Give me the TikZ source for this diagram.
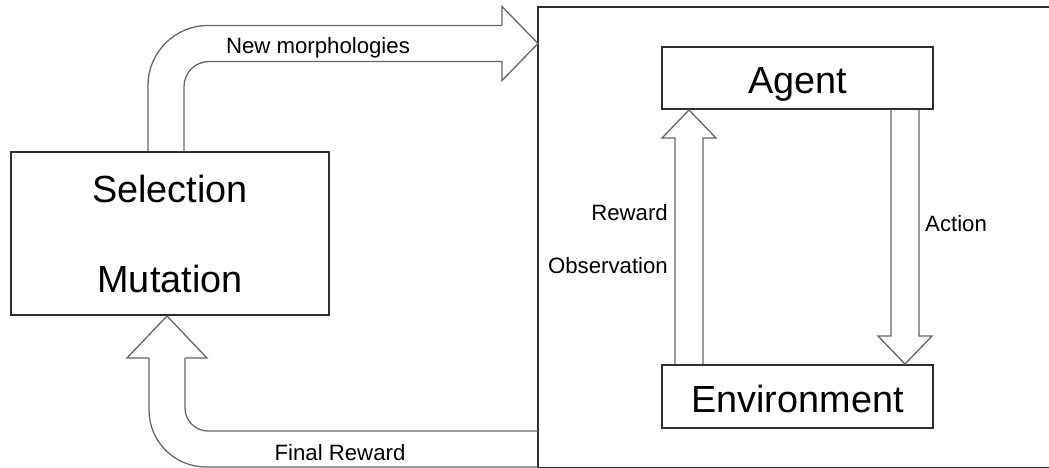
\documentclass[tikz,border=0pt]{standalone}
\usepackage{fontspec}
\setmainfont{Liberation Sans}
\usetikzlibrary{calc}
\definecolor{boxline}{HTML}{2E2E2E}
\definecolor{arrline}{HTML}{666666}
\tikzset{
  box/.style={draw=boxline,line width=2pt,rectangle,inner sep=0pt,
    font=\fontsize{37.8}{45}\selectfont,text height=32pt,text depth=0pt},
  blockarr/.style={draw=arrline,line width=1.3pt,line join=miter},
  lbl/.style={inner sep=0pt,font=\fontsize{22.2}{26}\selectfont}
}
% straight block arrow, start point -> tip (vertical)
\newcommand\vblock[2]{\draw[blockarr] let \p1=(#1), \p2=(#2), \n1={sign(\y2-\y1)} in
  ({\x1-14pt},\y1) -- ({\x1-14pt},{\y2-(\n1)*28pt}) -- ({\x1-27pt},{\y2-(\n1)*28pt}) -- (\x1,\y2)
  -- ({\x1+27pt},{\y2-(\n1)*28pt}) -- ({\x1+14pt},{\y2-(\n1)*28pt}) -- ({\x1+14pt},\y1);}

\begin{document}
\begin{tikzpicture}[x=1pt,y=-1pt]
    \useasboundingbox (0,0) rectangle (1049,468);
    % environment panel (cut off on the right)
    \draw[draw=boxline,line width=2pt] (1060,7) -- (538,7) -- (538,467.5) -- (1060,467.5);
    \coordinate (newtip) at (538,43.5);
    \coordinate (frin) at (538,449);

    \node[box,minimum width=318pt,minimum height=163pt,align=center,
        font=\fontsize{37.8}{90}\selectfont,text height=,text depth=] (sel) at (170,233.5) {Selection\\Mutation};
    \node[box,minimum width=271pt,minimum height=62pt] (agent) at (797.5,78) {Agent};
    \node[box,minimum width=271pt,minimum height=63pt] (env) at (797.5,396.5) {Environment};

    \coordinate (newin) at ([xshift=156pt]sel.north west);
    \coordinate (frtip) at ([xshift=157pt]sel.south west);

    % new morphologies
    \draw[blockarr] let \p1=(newin), \p2=(newtip) in
        [rounded corners=60pt] ({\x1-18pt},\y1) |- ({\x2-36pt},{\y2+18pt})
        [sharp corners] ({\x2-36pt},{\y2+18pt}) -- ({\x2-36pt},{\y2+37pt}) -- (\x2,\y2)
            -- ({\x2-36pt},{\y2-37pt}) -- ({\x2-36pt},{\y2-18pt})
        [rounded corners=25pt] ({\x2-36pt},{\y2-18pt}) -| ({\x1+18pt},\y1);
    % final reward
    \draw[blockarr] let \p1=(frin), \p2=(frtip) in
        [rounded corners=57pt] (\x1,{\y1-18pt}) -| ({\x2-18pt},{\y2-42pt})
        [sharp corners] ({\x2-18pt},{\y2-42pt}) -- ({\x2-40pt},{\y2-42pt}) -- (\x2,\y2)
            -- ({\x2+40pt},{\y2-42pt}) -- ({\x2+18pt},{\y2-42pt})
        [rounded corners=23pt] ({\x2+18pt},{\y2-42pt}) |- (\x1,{\y1+18pt});

    \vblock{[xshift=28pt]env.north west}{[xshift=28pt]agent.south west}
    \vblock{[xshift=-29pt]agent.south east}{[xshift=-29pt]env.north east}

    \node[lbl,anchor=base] (newlbl) at (318,54) {New morphologies};
    \node[lbl,anchor=base] (frlbl) at (340,460) {Final Reward};
    \node[lbl,anchor=base east] (rewlbl) at (668,220) {Reward};
    \node[lbl,anchor=base east] (obslbl) at (668,273) {Observation};
    \node[lbl,anchor=base west] (actlbl) at (925,231) {Action};
\end{tikzpicture}
\end{document}
